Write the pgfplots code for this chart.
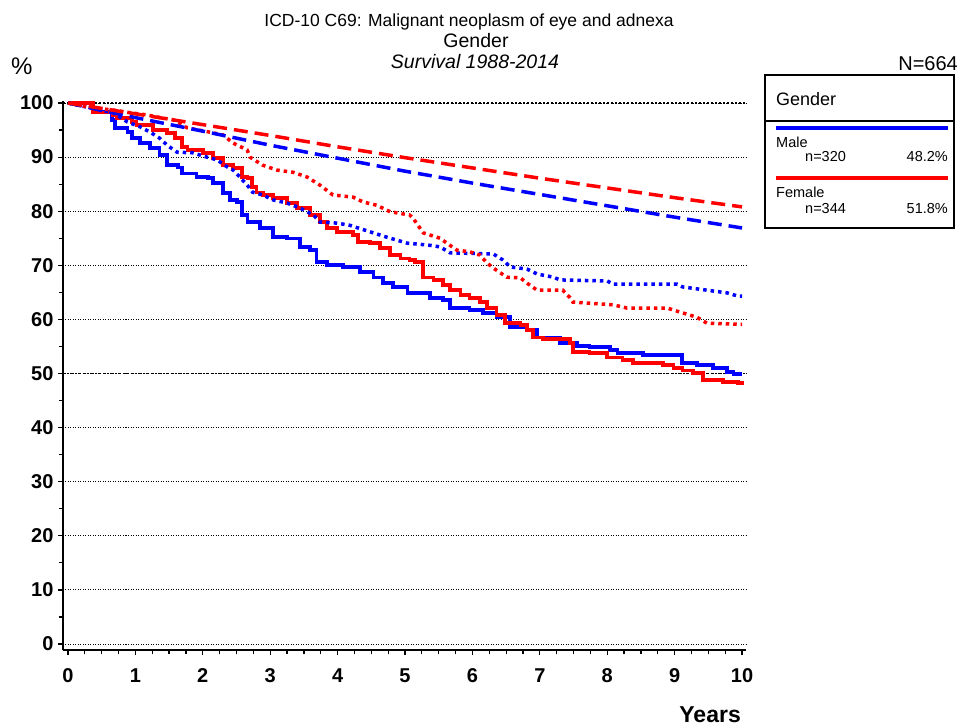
\documentclass[border=0pt]{standalone}
\usepackage{pgfplots}
\pgfplotsset{compat=1.18}
\usepackage{fontspec}
\setmainfont{Liberation Sans}
\definecolor{sblue}{RGB}{0,0,255}
\definecolor{sred}{RGB}{255,0,0}
\begin{document}
\begin{tikzpicture}[x=1pt,y=1pt]
\path[use as bounding box] (0,0) rectangle (959,-728);
\begin{axis}[
  at={(63pt,-650pt)}, anchor=south west,
  scale only axis, width=683pt, height=549pt,
  xmin=-0.074, xmax=10.059, ymin=-1.11, ymax=100.37,
  axis x line*=bottom, axis y line*=left,
  axis line style={-, line width=2.2pt},
  xtick={0,1,...,10}, ytick={0,10,...,100},
  minor x tick num=3, minor y tick num=1,
  tick align=outside, major tick length=5pt, minor tick length=4pt,
  tick style={line width=1.2pt, black},
  ymajorgrids, grid style={black, line width=0.9pt, dash pattern=on 1pt off 1.5pt},
  extra y ticks={50,100}, extra y tick labels={},
  extra y tick style={grid style={black, line width=1.8pt, dash pattern=on 2pt off 2pt}},
  /pgf/number format/assume math mode=true,
  ticklabel style={font=\fontsize{20}{20}\selectfont\bfseries},
  yticklabel style={xshift=-1pt},
  xticklabel style={yshift=-10pt},
  clip=false,
]
% Male observed
\addplot[const plot, sblue, line width=3.5pt] coordinates {
(0,100) (0.37,98.3) (0.65,96.9) (0.70,95.4) (0.88,94.6) (0.95,93.5) (1.07,92.6)
(1.22,91.7) (1.36,90.4) (1.47,88.5) (1.63,88.1) (1.69,87.0) (1.91,86.3) (2.08,86.1)
(2.15,85.2) (2.30,83.4) (2.40,82.1) (2.51,81.7) (2.58,79.3) (2.66,78.0) (2.85,76.9)
(3.04,75.2) (3.25,75.0) (3.44,73.4) (3.59,72.8) (3.69,70.6) (3.84,70.1) (4.08,69.7)
(4.33,68.8) (4.53,67.7) (4.67,66.7) (4.82,66.0) (5.04,64.9) (5.37,64.0) (5.56,63.6)
(5.67,62.1) (5.96,61.7) (6.16,61.2) (6.36,60.4) (6.56,58.6) (6.81,58.0) (6.96,56.7)
(7.30,55.6) (7.55,55.1) (7.74,54.9) (8.04,54.3) (8.15,53.8) (8.53,53.4)
(9.11,51.9) (9.33,51.6) (9.57,51.0) (9.78,50.3) (9.87,49.9) (10.0,49.9)};
% Female observed
\addplot[const plot, sred, line width=3.5pt] coordinates {
(0,100) (0.37,98.2) (0.67,97.8) (0.73,97.2) (0.95,96.5) (1.02,95.9) (1.26,95.0)
(1.47,94.5) (1.59,93.5) (1.69,91.9) (1.77,91.3) (2.00,90.8) (2.15,89.8) (2.30,88.5)
(2.45,88.0) (2.58,86.3) (2.66,86.1) (2.73,84.5) (2.80,83.5) (2.89,83.0) (3.04,82.4)
(3.25,81.5) (3.40,80.6) (3.59,79.3) (3.74,78.0) (3.84,76.9) (3.99,76.2) (4.23,75.6)
(4.30,74.3) (4.48,74.1) (4.63,73.2) (4.78,71.9) (4.93,71.3) (5.07,71.0) (5.15,70.6)
(5.27,67.7) (5.42,67.3) (5.56,66.4) (5.67,65.4) (5.82,64.5) (5.96,64.0) (6.11,63.2)
(6.22,62.1) (6.36,60.8) (6.48,59.3) (6.71,59.0) (6.81,58.0) (6.90,56.7) (7.05,56.4)
(7.45,55.6) (7.49,54.0) (7.74,53.8) (8.00,53.0) (8.23,52.5) (8.38,51.9) (8.83,51.6)
(8.98,51.0) (9.12,50.6) (9.27,50.1) (9.42,48.8) (9.72,48.4) (9.94,48.2) (10.0,47.9)};
% Male relative
\addplot[sblue, line width=3.5pt, dash pattern=on 3.5pt off 4pt] coordinates {
(0,100) (0.33,99.1) (0.67,98.2) (0.88,96.5) (1.07,95.6) (1.22,94.6) (1.36,93.5)
(1.47,92.2) (1.62,90.9) (1.85,90.8) (2.06,90.0) (2.21,89.5) (2.36,88.2) (2.45,87.6)
(2.55,86.3) (2.66,84.8) (2.74,83.5) (2.89,83.0) (3.04,82.1) (3.25,81.5) (3.44,80.6)
(3.64,79.3) (3.74,78.0) (3.99,77.8) (4.18,77.4) (4.48,76.2) (4.73,75.2) (5.03,74.1)
(5.37,73.7) (5.52,73.4) (5.67,72.3) (6.31,72.1) (6.45,71.0) (6.56,69.7) (6.81,69.3)
(6.96,68.4) (7.20,67.8) (7.30,67.3) (8.00,67.1) (8.09,66.5) (9.04,66.5) (9.12,66.0)
(9.48,65.4) (9.78,64.9) (9.94,64.3) (10,64.3)};
% Female relative
\addplot[sred, line width=3.5pt, dash pattern=on 3.5pt off 4pt] coordinates {
(0,100) (0.37,99.1) (0.67,98.7) (0.92,98.2) (1.17,97.8) (1.41,97.2) (1.56,96.9)
(1.77,95.4) (2.11,94.6) (2.30,94.1) (2.45,92.6) (2.66,91.3) (2.70,90.0) (2.89,88.5)
(3.10,87.6) (3.34,87.2) (3.55,86.3) (3.74,84.8) (3.93,83.0) (4.23,82.6) (4.38,81.7)
(4.58,81.1) (4.78,79.9) (5.07,79.3) (5.12,78.7) (5.27,76.0) (5.52,75.0) (5.62,74.1)
(5.77,72.8) (5.96,72.5) (6.11,71.9) (6.22,70.4) (6.31,69.5) (6.51,67.8) (6.71,67.7)
(6.81,66.7) (6.96,65.4) (7.34,65.4) (7.45,64.0) (7.49,63.2) (8.09,62.7) (8.29,62.1)
(8.89,62.1) (9.12,61.2) (9.33,60.4) (9.48,59.3) (9.94,59.1) (10,59.1)};
% Male expected
\addplot[sblue, line width=3.5pt, dash pattern=on 14pt off 7pt] coordinates {
(0,100) (1,97.3) (2,94.8) (3,92.2) (4,89.8) (5,87.4) (6,85.2) (7,83.1) (8,81.0) (9,78.9) (10,76.9)};
% Female expected
\addplot[sred, line width=3.5pt, dash pattern=on 14pt off 7pt] coordinates {
(0,100) (1,98.0) (2,96.0) (3,94.0) (4,91.9) (5,89.9) (6,88.0) (7,86.1) (8,84.3) (9,82.5) (10,80.8)};
\end{axis}
% titles
\node[anchor=base, font=\fontsize{17.5}{17.5}\selectfont] at (469,-26) {ICD-10 C69: Malignant neoplasm of eye and adnexa};
\node[anchor=base, font=\fontsize{19.5}{19.5}\selectfont] at (476,-47) {Gender};
\node[anchor=base, font=\fontsize{19.5}{19.5}\selectfont\itshape] at (475,-68) {Survival 1988-2014};
\node[anchor=base west, inner sep=0pt, font=\fontsize{24}{24}\selectfont] at (11,-74) {\%};
\node[anchor=base east, inner sep=0pt, font=\fontsize{20}{20}\selectfont] at (958,-70) {N=664};
\node[anchor=base east, inner sep=0pt, font=\fontsize{23}{23}\selectfont\bfseries] at (741,-722) {Years};
% legend box
\draw[line width=1.2pt] (765,-75) rectangle (954,-228);
\draw[line width=1.2pt] (765,-121) -- (954,-121);
\node[anchor=base west, inner sep=0pt, font=\fontsize{18}{18}\selectfont] at (776,-105) {Gender};
\draw[sblue, line width=4pt] (776,-128) -- (948,-128);
\node[anchor=base west, inner sep=0pt, font=\fontsize{14.5}{14.5}\selectfont] at (776,-147) {Male};
\node[anchor=base west, inner sep=0pt, font=\fontsize{14.5}{14.5}\selectfont] at (805,-161) {n=320};
\node[anchor=base east, inner sep=0pt, font=\fontsize{14.5}{14.5}\selectfont] at (948,-161) {48.2\%};
\draw[sred, line width=4pt] (776,-178) -- (948,-178);
\node[anchor=base west, inner sep=0pt, font=\fontsize{14.5}{14.5}\selectfont] at (776,-197) {Female};
\node[anchor=base west, inner sep=0pt, font=\fontsize{14.5}{14.5}\selectfont] at (805,-213) {n=344};
\node[anchor=base east, inner sep=0pt, font=\fontsize{14.5}{14.5}\selectfont] at (948,-213) {51.8\%};
\end{tikzpicture}
\end{document}
